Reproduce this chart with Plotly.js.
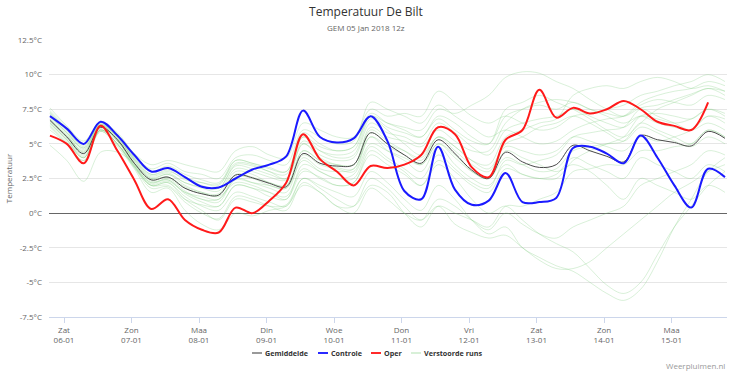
<!DOCTYPE html>
<html>
<head>
<meta charset="utf-8">
<script src="https://cdn.plot.ly/plotly-3.0.1.min.js"></script>
<style>
html,body{margin:0;padding:0;background:#fff;}
#chart{width:732px;height:371px;}
</style>
</head>
<body>
<div id="chart"></div>
<script>
// ---- time axis (6-hourly, local time) ----
const startTime = '2018-01-05T19:00:00Z';
const stepHours = 6;
const nSteps = 41;

// ---- x tick labels ----
const tickDates = ['2018-01-06','2018-01-07','2018-01-08','2018-01-09','2018-01-10','2018-01-11','2018-01-12','2018-01-13','2018-01-14','2018-01-15'];
const tickDays  = ['Zat','Zon','Maa','Din','Woe','Don','Vri','Zat','Zon','Maa'];
const tickDm    = ['06-01','07-01','08-01','09-01','10-01','11-01','12-01','13-01','14-01','15-01'];

// ---- y tick labels ----
const yTickVals = [-7.5,-5,-2.5,0,2.5,5,7.5,10,12.5];
const yTickText = ['-7.5°C','-5°C','-2.5°C','0°C','2.5°C','5°C','7.5°C','10°C','12.5°C'];

// ---- legend ----
const legendNames  = ['Gemiddelde','Controle','Oper','Verstoorde runs'];
const legendColors = ['#999999','#2a2aff','#ff2a2a','#d8f0d8'];

// ---- series ----
const gemiddelde = [6.7,5.5,4.3,6.2,5.3,3.6,2.4,2.6,1.8,1.4,1.3, 2.75,2.55,2.15,1.9,4.3,3.6,3.4,3.5,5.8,5.0, 4.2,3.6,5.3,4.3,3.1,2.5,4.4,3.7,3.3,3.5, 4.9,4.5,4.1,3.7,5.6,5.3,5.1,4.85,5.9,5.4];
const controle   = [7.0,6.1,5.0,6.6,5.6,4.2,3.0,3.25,2.6,1.9,1.85, 2.5,3.15,3.5,4.1,7.4,5.5,5.1,5.4,7.0,5.2, 1.6,1.0,4.8,1.7,0.6,0.9,2.9,0.8,0.8,1.1, 4.7,4.8,4.3,3.6,5.6,4.0,2.0,0.4,3.2,2.6];
const oper       = [5.6,5.0,3.6,6.3,4.5,2.4,0.3,1.0,-0.5,-1.2,-1.4, 0.4,0.0,0.9,2.2,5.7,3.9,3.0,2.0,3.4,3.25, 3.5,4.2,6.2,5.7,3.3,2.6,5.3,6.0,8.9,6.9, 7.6,7.2,7.5,8.1,7.5,6.6,6.3,6.0,8.0];

// ---- perturbed runs (Verstoorde runs) ----
const run01 = [7.2,6.0,4.8,6.4,5.6,4.0,3.0,3.4,2.8,2.4,2.2, 3.8,3.6,3.3,3.0,5.5,4.8,4.5,4.8,7.0,6.5, 6.2,6.0,7.5,7.2,7.8,8.5,9.8,10.2,10.1,9.5, 9.0,8.2,7.5,7.0,7.6,7.8,8.2,8.6,9.0,8.8];
const run02 = [6.5,5.3,4.0,6.0,5.0,3.4,2.0,2.2,1.0,0.2,-0.5, 1.0,0.8,0.5,0.6,2.5,2.0,1.5,1.2,3.0,2.2, 1.0,0.2,2.0,1.0,-0.5,-1.5,-1.0,-2.5,-3.2,-3.8, -4.2,-5.0,-5.8,-6.3,-5.5,-3.5,-1.0,1.0,3.0,4.0];
const run03 = [6.8,5.6,4.5,6.2,5.2,3.5,2.2,2.4,1.4,0.8,0.5, 2.0,1.8,1.2,1.0,3.0,2.6,2.0,2.2,4.5,3.8, 3.0,2.0,3.5,2.5,1.0,0.0,0.5,-0.5,-1.5,-2.2, -2.8,-4.0,-5.2,-5.8,-5.0,-3.0,-1.0,0.5,2.0,3.0];
const run04 = [6.0,5.0,3.8,5.9,4.8,3.2,1.5,1.8,0.2,-0.8,-1.2, 0.0,-0.2,0.2,0.5,2.0,1.5,0.5,0.5,2.5,1.8, 0.5,-0.5,0.5,-0.8,-1.4,-1.8,-1.6,-2.5,-3.4,-4.0, -4.0,-3.5,-2.5,-1.5,-0.5,0.5,1.5,2.2,3.0,3.5];
const run05 = [7.4,6.2,5.0,6.5,5.8,4.3,3.5,3.8,3.5,3.2,3.0, 4.5,4.8,4.2,4.0,6.5,6.0,5.5,5.5,7.5,7.0, 7.2,7.0,8.8,8.0,7.0,6.5,7.0,6.5,6.0,6.2, 7.0,7.2,7.5,7.8,8.5,8.8,9.2,9.5,10.0,9.5];
const run06 = [7.0,5.8,4.6,6.3,5.5,3.8,2.6,2.8,2.2,1.8,1.6, 3.2,3.0,2.6,2.4,5.0,4.2,3.8,4.0,6.5,5.8, 5.5,5.0,6.5,5.8,4.8,4.2,6.0,6.5,6.8,7.0, 7.5,7.0,6.5,6.2,7.0,6.8,6.5,6.8,7.5,7.0];
const run07 = [6.6,5.4,4.2,6.2,5.2,3.5,2.2,2.5,1.6,1.0,0.8, 2.5,2.2,1.8,1.5,4.0,3.2,3.0,3.2,5.5,4.5, 3.8,3.0,4.8,3.5,2.5,2.0,3.5,2.8,2.5,2.8, 4.0,3.5,3.0,2.5,4.0,3.5,3.0,2.5,3.5,3.0];
const run08 = [7.2,6.0,4.9,6.4,5.4,3.9,2.8,3.0,2.5,2.0,1.8, 3.5,3.4,3.0,2.5,5.2,4.5,4.2,4.5,7.0,6.2, 5.8,5.5,6.8,6.0,5.2,5.0,7.5,8.0,8.5,8.0, 7.5,6.8,6.0,5.5,6.5,7.5,8.0,8.5,9.0,8.5];
const run09 = [4.9,3.8,2.3,4.4,4.4,3.6,2.5,2.8,2.0,1.5,1.2, 2.2,2.0,1.5,1.0,3.5,3.0,2.5,2.8,5.0,4.5, 4.0,3.5,5.0,4.0,3.0,2.5,4.5,4.0,3.5,3.0, 3.5,3.0,2.0,1.0,2.5,2.0,1.5,1.0,2.0,1.5];
const run10 = [7.6,6.3,5.2,6.6,5.7,4.2,3.2,3.6,3.0,2.8,2.5, 4.0,4.2,3.8,3.5,6.0,5.5,5.0,5.2,8.0,7.5, 7.0,6.5,7.8,7.0,6.2,5.5,6.0,5.5,5.0,5.2, 6.0,6.5,6.8,7.0,8.0,8.5,8.8,9.0,9.5,9.2];
const run11 = [6.4,5.2,4.0,6.0,5.0,3.4,2.0,2.2,1.2,0.5,0.2, 1.5,1.2,0.8,0.5,2.5,1.8,1.0,0.5,2.0,1.5, 0.0,-1.0,0.5,0.0,-0.5,-1.0,0.5,0.5,1.0,1.5, 3.0,3.2,3.5,3.5,4.5,4.5,4.8,5.0,6.0,5.5];
const run12 = [6.9,5.7,4.4,6.3,5.3,3.7,2.5,2.6,1.9,1.5,1.4, 3.0,2.8,2.2,2.0,4.5,3.8,3.5,3.5,6.0,5.2, 4.5,3.8,5.5,4.8,3.8,3.5,5.5,6.0,6.5,6.8, 8.5,9.0,9.2,9.0,9.5,9.8,9.5,9.0,9.2,8.8];
const run13 = [6.2,5.0,3.8,5.9,4.9,3.3,1.8,1.9,0.8,0.0,-0.4, 1.2,1.0,0.5,0.2,2.2,1.5,0.5,0.0,1.8,1.0, 0.0,-0.5,1.0,0.5,-0.5,-1.2,0.0,-0.8,-1.5,-1.8, -1.0,-0.5,0.0,0.5,2.0,2.5,3.0,3.5,4.5,4.2];
const run14 = [7.3,6.1,5.0,6.5,5.6,4.0,3.0,3.2,2.6,2.2,2.0, 3.8,3.6,3.2,3.0,5.8,5.0,4.5,4.8,7.2,6.5, 6.0,5.5,7.0,6.5,5.5,5.0,7.0,7.5,7.8,7.5, 8.0,7.5,7.2,7.0,7.8,8.2,8.0,7.8,8.5,8.2];
const run15 = [6.7,5.5,4.3,6.1,5.2,3.6,2.3,2.4,1.5,1.0,1.0, 2.6,2.5,2.0,1.8,4.2,3.5,3.2,3.0,5.5,4.8, 4.2,3.5,5.0,4.2,3.0,2.5,4.0,3.5,3.0,3.2, 4.5,4.8,5.0,5.2,6.5,6.0,5.5,5.0,6.0,5.5];
const run16 = [7.0,5.8,4.7,6.3,5.4,3.8,2.7,2.9,2.2,1.9,1.8, 3.4,3.2,2.8,2.5,5.0,4.0,3.5,3.5,6.2,5.5, 5.2,4.8,6.0,5.2,4.5,4.5,6.5,7.5,8.0,8.2, 8.0,7.5,7.0,6.5,7.0,6.5,6.2,6.0,7.0,6.8];
const run17 = [6.5,5.3,4.1,6.0,5.0,3.3,2.0,2.0,1.0,0.6,0.5, 2.0,1.8,1.5,1.2,3.2,2.5,2.0,2.2,4.2,3.5, 2.8,2.0,3.8,3.0,2.0,1.5,3.2,2.8,2.5,2.5, 3.8,4.5,5.0,5.5,7.0,7.2,7.0,6.8,7.5,7.2];
const run18 = [7.1,5.9,4.7,6.4,5.5,3.9,2.8,3.1,2.4,2.2,2.1, 3.6,3.5,3.0,2.8,5.5,4.5,4.0,4.2,6.8,6.0, 5.0,4.2,5.5,4.5,3.5,3.0,4.8,4.5,4.2,4.5, 5.5,5.2,4.8,4.5,5.5,5.2,5.5,6.0,7.0,6.5];
const run19 = [6.3,5.1,4.0,6.0,5.0,3.4,2.1,2.3,1.5,1.2,1.0, 2.4,2.2,2.0,1.8,3.8,3.0,2.5,2.5,4.8,4.0, 3.2,2.5,4.2,3.2,2.2,1.8,3.8,3.5,3.8,4.2, 5.5,5.8,6.0,6.2,7.5,7.0,6.5,6.0,6.5,6.0];
const run20 = [6.8,5.6,4.4,6.2,5.3,3.6,2.4,2.6,1.8,1.4,1.3, 2.8,2.6,2.2,2.0,4.5,3.8,3.3,3.2,5.8,5.0, 4.5,4.0,5.5,4.8,3.8,3.2,5.0,5.5,6.2,6.5, 7.0,6.5,5.8,5.2,6.2,5.8,5.2,4.8,5.5,5.0];
const runs = [run01,run02,run03,run04,run05,run06,run07,run08,run09,run10,run11,run12,run13,run14,run15,run16,run17,run18,run19,run20];

// ---- build time stamps ----
function fmt(d){
  const p = n => String(n).padStart(2,'0');
  return d.getUTCFullYear()+'-'+p(d.getUTCMonth()+1)+'-'+p(d.getUTCDate())+' '+p(d.getUTCHours())+':'+p(d.getUTCMinutes());
}
const t0 = new Date(startTime).getTime();
const times = [];
for (let k = 0; k < nSteps; k++) times.push(fmt(new Date(t0 + k*stepHours*3600*1000)));

const FONT = '"Open Sans", "Liberation Sans", Arial, sans-serif';
const W = 732, H = 371, ML = 49, MR = 5, MT = 40, MB = 54;
const PW = W - ML - MR, PH = H - MT - MB;
const px = v => (v - ML) / PW;       // page px -> paper x
const py = v => (H - MB - v) / PH;   // page px -> paper y

const traces = [];
runs.forEach((r) => {
  traces.push({
    x: times.slice(0, r.length), y: r, type: 'scatter', mode: 'lines',
    line: {shape: 'spline', smoothing: 1, color: 'rgba(120,200,120,0.28)', width: 1},
    name: 'Verstoorde runs', showlegend: false, hoverinfo: 'skip'
  });
});
traces.push({x: times.slice(0, gemiddelde.length), y: gemiddelde, type: 'scatter', mode: 'lines',
  line: {shape: 'spline', smoothing: 1, color: '#4a4a4a', width: 1}, name: 'Gemiddelde', showlegend: false});
traces.push({x: times.slice(0, controle.length), y: controle, type: 'scatter', mode: 'lines',
  line: {shape: 'spline', smoothing: 1, color: '#1a1aff', width: 2}, name: 'Controle', showlegend: false});
traces.push({x: times.slice(0, oper.length), y: oper, type: 'scatter', mode: 'lines',
  line: {shape: 'spline', smoothing: 1, color: '#ff1a1a', width: 2}, name: 'Oper', showlegend: false});

// custom compact legend (Highcharts style)
const legendX = [252, 318, 371, 411];
const legendY = 353;
const shapes = [];
const annotations = [
  {text: 'GEM 05 Jan 2018 12z', xref: 'paper', yref: 'paper', x: px(366), y: py(27),
   xanchor: 'center', yanchor: 'middle', showarrow: false, font: {family: FONT, size: 8, color: '#666'}},
  {text: 'Weerpluimen.nl', xref: 'paper', yref: 'paper', x: px(727), y: py(365),
   xanchor: 'right', yanchor: 'middle', showarrow: false, font: {family: FONT, size: 8, color: '#999'}}
];
legendNames.forEach((n, i) => {
  shapes.push({type: 'line', xref: 'paper', yref: 'paper', x0: px(legendX[i]), x1: px(legendX[i] + 10),
    y0: py(legendY), y1: py(legendY), line: {color: legendColors[i], width: 2}});
  annotations.push({text: '<b>' + n + '</b>', xref: 'paper', yref: 'paper', x: px(legendX[i] + 11), y: py(legendY),
    xanchor: 'left', yanchor: 'middle', showarrow: false, font: {family: FONT, size: 7.2, color: '#333'}});
});

const layout = {
  width: W, height: H,
  margin: {l: ML, r: MR, t: MT, b: MB},
  paper_bgcolor: '#fff', plot_bgcolor: '#fff',
  font: {family: FONT, size: 8, color: '#666'},
  title: {text: 'Temperatuur De Bilt', font: {family: FONT, size: 12, color: '#333'},
          x: 0.5, xanchor: 'center', xref: 'container', y: 1 - 12/H, yanchor: 'middle', yref: 'container'},
  annotations: annotations,
  shapes: shapes,
  xaxis: {
    type: 'date',
    range: ['2018-01-05 18:40', '2018-01-15 19:43'],
    tickvals: tickDates,
    ticktext: tickDays.map((d, i) => d + '<br>' + tickDm[i]),
    ticks: 'outside', ticklen: 5, tickcolor: '#ccd6eb', tickwidth: 1,
    showline: true, linecolor: '#ccd6eb', linewidth: 1,
    showgrid: false, zeroline: false,
    tickfont: {family: FONT, size: 8, color: '#666'}
  },
  yaxis: {
    range: [-7.5, 12.5],
    tickvals: yTickVals, ticktext: yTickText,
    showgrid: true, gridcolor: '#e6e6e6', gridwidth: 1,
    zeroline: true, zerolinecolor: '#666', zerolinewidth: 1,
    showline: false, ticks: '', ticklabelstandoff: 6,
    tickfont: {family: FONT, size: 8, color: '#666'},
    title: {text: 'Temperatuur', font: {family: FONT, size: 8, color: '#666'}, standoff: 3}
  },
  showlegend: false
};

Plotly.newPlot('chart', traces, layout, {displayModeBar: false, staticPlot: true});
</script>
</body>
</html>
